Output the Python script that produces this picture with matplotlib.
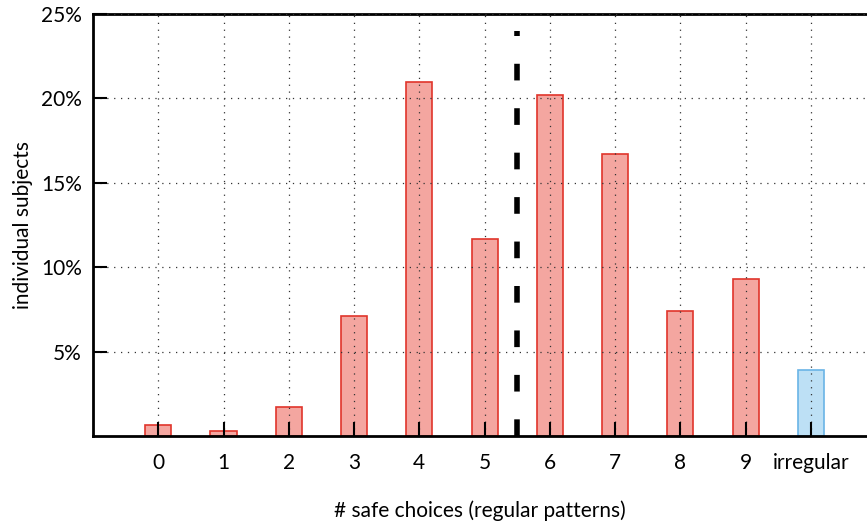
import matplotlib
matplotlib.use('Agg')
import matplotlib.pyplot as plt
from matplotlib.ticker import FuncFormatter

categories = ['0', '1', '2', '3', '4', '5', '6', '7', '8', '9', 'irregular']
shares = [0.65, 0.3, 1.72, 7.1, 20.97, 11.67, 20.2, 16.7, 7.4, 9.3, 3.9]  # % of subjects
cutoff = 5.5  # dashed line between 5 and 6

plt.rcParams['font.family'] = ['Lato', 'DejaVu Sans']

fig = plt.figure(figsize=(8.67, 5.25), dpi=100)
ax = fig.add_axes([0.1073, 0.1695, 0.8927, 0.8038])

xs = list(range(len(categories)))
face = ['#f4a6a0'] * 10 + ['#bde0f5']
edge = ['#e0352b'] * 10 + ['#6ab4e6']
ax.bar(xs, shares, width=0.4, color=face, edgecolor=edge, linewidth=1.2, zorder=1)

ax.axvline(cutoff, ymin=0, ymax=0.96, color='black', linewidth=4,
           linestyle=(0, (3, 5)), zorder=3)

ax.set_xlim(-1, 10.86)
ax.set_ylim(0, 25)
ax.set_xticks(xs)
ax.set_xticklabels(categories)
ax.set_yticks([5, 10, 15, 20, 25])
ax.yaxis.set_major_formatter(FuncFormatter(lambda v, p: f'{v:.0f}%'))

# grid and ticks drawn over the bars, like the original
ax.set_axisbelow(False)
ax.grid(True, linestyle=(0, (1, 4.5)), color='#333333', linewidth=0.9)
ax.tick_params(axis='both', direction='in', length=10, width=1.5, labelsize=15, pad=12)
ax.tick_params(axis='y', pad=8)

for s in ['left', 'bottom', 'top']:
    ax.spines[s].set_linewidth(2)
ax.spines['right'].set_visible(False)

ax.set_xlabel('# safe choices (regular patterns)', fontsize=15, labelpad=20)
ax.set_ylabel('individual subjects', fontsize=15, labelpad=6)

fig.savefig('out.png', dpi=100)
